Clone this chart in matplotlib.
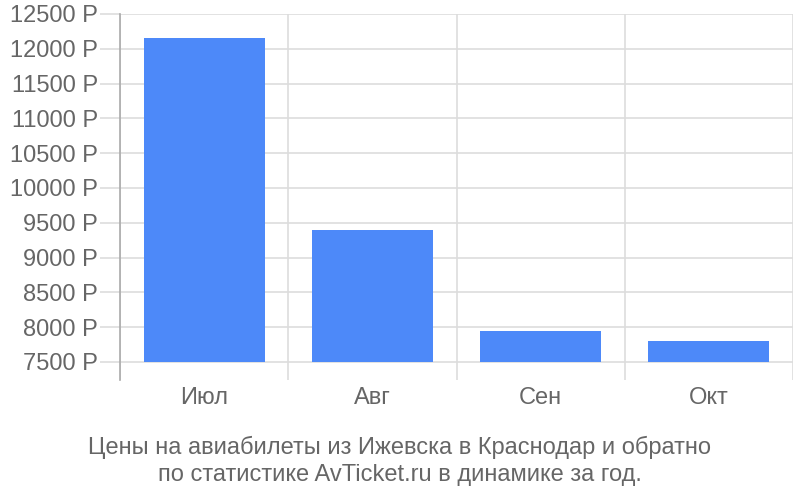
import numpy as np
import matplotlib
matplotlib.use('Agg')
import matplotlib.pyplot as plt
from matplotlib.ticker import FixedLocator

months = ['Июл', 'Авг', 'Сен', 'Окт']
prices = [12155, 9397, 7945, 7802]
base = 7500
yticks = [7500, 8000, 8500, 9000, 9500, 10000, 10500, 11000, 11500, 12000, 12500]
caption = 'Цены на авиабилеты из Ижевска в Краснодар и обратно\nпо статистике AvTicket.ru в динамике за год.'

plt.rcParams['font.family'] = ['Liberation Sans', 'DejaVu Sans']

fig = plt.figure(figsize=(8, 5), dpi=100)
ax = fig.add_axes([120 / 800, 1 - 380 / 500, 673 / 800, 366 / 500])

x = np.arange(len(months))
ax.bar(x, np.array(prices) - base, width=0.72, bottom=base, color='#4d89f9', zorder=3)

ax.set_xlim(-0.5, len(months) - 0.5)
ax.set_ylim(7241, 12500)

ax.set_yticks(yticks)
ax.set_yticklabels(['{} Р'.format(v) for v in yticks])
ax.set_xticks(x)
ax.set_xticklabels(months)
ax.xaxis.set_minor_locator(FixedLocator(np.arange(-0.5, len(months), 1.0)))

ax.tick_params(axis='y', length=14.4, color='#dddddd', width=1.2, pad=1.5, labelsize=17, labelcolor='#666666')
ax.tick_params(axis='x', which='major', length=0, pad=5, labelsize=17, labelcolor='#666666')
ax.tick_params(axis='x', which='minor', length=0)

ax.grid(axis='y', color='#dddddd', linewidth=1.2, zorder=0)
ax.grid(axis='x', which='minor', color='#dddddd', linewidth=1.2, zorder=0)
ax.grid(axis='x', which='major', visible=False)

for s in ['top', 'right', 'bottom']:
    ax.spines[s].set_visible(False)
ax.spines['left'].set_color('#aaaaaa')
ax.spines['left'].set_linewidth(1.2)

fig.text(0.5, 1 - 461 / 500, caption, ha='center', va='center', fontsize=17,
         color='#666666', linespacing=1.3)

fig.savefig('out.png', dpi=100)
